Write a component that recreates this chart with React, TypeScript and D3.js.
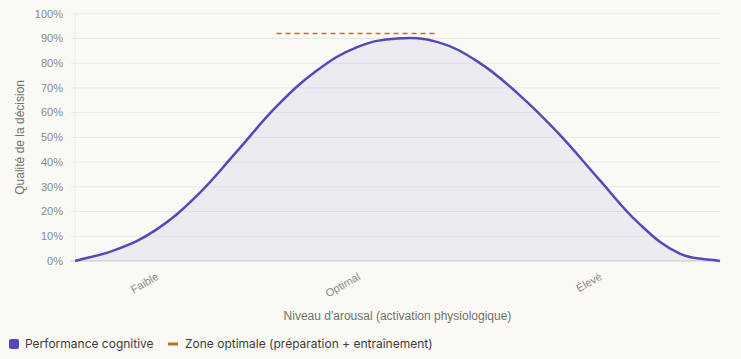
import React from "react";
import * as d3 from "d3";

const categories = ["", "", "Faible", "", "", "", "", "Optimal", "", "", "", "", "", "Élevé", "", "", ""];
const performance = [0, 4.5, 12.5, 26, 44, 62.5, 77, 86.5, 90, 88.5, 80.5, 67.5, 51.5, 33, 15, 3, 0];
const optimalZone = [null, null, null, null, null, 92, 92, 92, 92, 92, null, null, null, null, null, null, null];
const yTicks = [0, 10, 20, 30, 40, 50, 60, 70, 80, 90, 100];

const W = 741, H = 359;
const left = 75, right = 720, top = 13.7, bottom = 261;

type P = { x: number; y: number };

function splinePath(pts: P[], t: number) {
  const cps: { p: P; n: P }[] = pts.map((cur, i) => {
    const prev = pts[i - 1] || cur;
    const next = pts[i + 1] || cur;
    const d01 = Math.hypot(cur.x - prev.x, cur.y - prev.y);
    const d12 = Math.hypot(next.x - cur.x, next.y - cur.y);
    let s01 = d01 / (d01 + d12);
    let s12 = d12 / (d01 + d12);
    if (!isFinite(s01)) s01 = 0;
    if (!isFinite(s12)) s12 = 0;
    const fa = t * s01, fb = t * s12;
    const clampY = (v: number) => Math.max(top, Math.min(bottom, v));
    return {
      p: { x: cur.x - fa * (next.x - prev.x), y: clampY(cur.y - fa * (next.y - prev.y)) },
      n: { x: cur.x + fb * (next.x - prev.x), y: clampY(cur.y + fb * (next.y - prev.y)) },
    };
  });
  let d = `M${pts[0].x},${pts[0].y}`;
  for (let i = 1; i < pts.length; i++) {
    const a = cps[i - 1].n, b = cps[i].p, c = pts[i];
    d += `C${a.x},${a.y},${b.x},${b.y},${c.x},${c.y}`;
  }
  return d;
}

export default function App() {
  const x = d3.scaleLinear().domain([0, categories.length - 1]).range([left, right]);
  const y = d3.scaleLinear().domain([0, 100]).range([bottom, top]);
  const pts = performance.map((v, i) => ({ x: x(i), y: y(v) }));
  const line = splinePath(pts, 0.4);
  const area = line + `L${x(categories.length - 1)},${y(0)}L${x(0)},${y(0)}Z`;
  const zoneIdx = optimalZone.map((v, i) => (v == null ? -1 : i)).filter((i) => i >= 0);
  const zoneLine = d3
    .line<number>()
    .x((i) => x(i))
    .y((i) => y(optimalZone[i] as number))(zoneIdx) as string;

  const tickFont = "'Liberation Sans', Arial, sans-serif";
  const legendFont = "Inter, 'Noto Sans', sans-serif";

  return (
    <svg width={W} height={H} style={{ position: "absolute", left: 0, top: 0, background: "#faf9f6" }}>
      <rect x={0} y={0} width={W} height={H} fill="#faf9f6" />
      {yTicks.map((t) => (
        <g key={t}>
          <line x1={left - 4} x2={right} y1={y(t)} y2={y(t)} stroke={t === 0 ? "#cfcdc8" : "#ebe9e4"} strokeWidth={1} />
          <text x={63} y={y(t)} dy="0.35em" textAnchor="end" fontSize={11} fill="#8a8985" fontFamily={tickFont}>
            {t}%
          </text>
        </g>
      ))}
      <line x1={left} x2={left} y1={top} y2={bottom} stroke="#ebe9e4" strokeWidth={1} />
      <path d={area} fill="rgba(83,74,183,0.08)" />
      <path d={line} fill="none" stroke="#534AB7" strokeWidth={2.5} strokeLinejoin="round" />
      <path d={zoneLine} fill="none" stroke="#BA7517" strokeWidth={1.3} strokeDasharray="5,4" />
      {categories.map((c, i) =>
        c ? (
          <text
            key={i}
            transform={`translate(${x(i)},${bottom + 11}) rotate(-30)`}
            textAnchor="end"
            dy="0.7em"
            fontSize={11}
            fill="#8a8985"
            fontFamily={tickFont}
          >
            {c}
          </text>
        ) : null
      )}
      <text x={(left + right) / 2} y={320} textAnchor="middle" fontSize={12} fill="#73726c" fontFamily={tickFont}>
        Niveau d'arousal (activation physiologique)
      </text>
      <text
        transform={`translate(24,${(top + bottom) / 2}) rotate(-90)`}
        textAnchor="middle"
        fontSize={12}
        fill="#73726c"
        fontFamily={tickFont}
      >
        Qualité de la décision
      </text>
      <rect x={9} y={339} width={10} height={10} rx={2} fill="#534AB7" />
      <text x={25} y={344} dy="0.35em" fontSize={12} fill="#3d3d3a" fontFamily={legendFont}>
        Performance cognitive
      </text>
      <line x1={168} x2={178} y1={344} y2={344} stroke="#BA7517" strokeWidth={3} />
      <text x={185} y={344} dy="0.35em" fontSize={12} fill="#3d3d3a" fontFamily={legendFont}>
        Zone optimale (préparation + entraînement)
      </text>
    </svg>
  );
}
